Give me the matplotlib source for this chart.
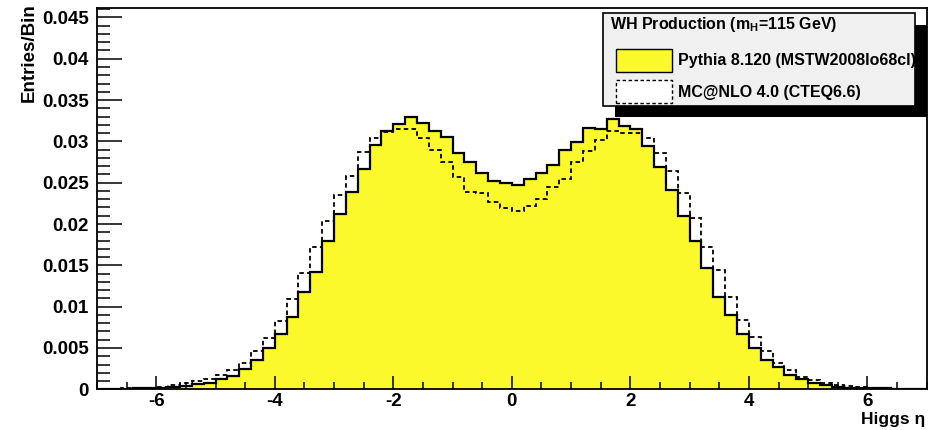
import numpy as np
import matplotlib
matplotlib.use("Agg")
from matplotlib import pyplot as plt
from matplotlib.patches import Rectangle
from matplotlib.ticker import MultipleLocator, FuncFormatter

# bins of Higgs eta, width 0.2 from -7 to 7
edges = np.round(np.arange(-7.0, 7.01, 0.2), 2)

pythia = [0, 0, 0.00005, 0.0001, 0.0001, 0.00015, 0.0003, 0.0004, 0.00064, 0.0008,
	0.00121, 0.00165, 0.00242, 0.00355, 0.0050, 0.0067, 0.00875, 0.01174, 0.01416, 0.0180,
	0.0212, 0.02385, 0.02667, 0.02958, 0.03127, 0.03212, 0.0330, 0.03228, 0.03127, 0.03051,
	0.02857, 0.02752, 0.02615, 0.02522, 0.02494, 0.02473, 0.02542, 0.02622, 0.02716, 0.02897,
	0.02998, 0.03167, 0.03148, 0.03269, 0.03191, 0.03148, 0.02949, 0.02695, 0.02413, 0.02098,
	0.01795, 0.01465, 0.01121, 0.009, 0.00666, 0.00496, 0.00355, 0.00266, 0.00173, 0.00121,
	0.00073, 0.00048, 0.00032, 0.0002, 0.00015, 0.0001, 0.0001, 0.00005, 0, 0]

mcnlo = [0, 0.00005, 0.0001, 0.0001, 0.00015, 0.0003, 0.00048, 0.00073, 0.001, 0.00128,
	0.00173, 0.00234, 0.00315, 0.00467, 0.00625, 0.0083, 0.01093, 0.01404, 0.01727, 0.0204,
	0.02352, 0.02582, 0.02877, 0.03039, 0.03111, 0.03148, 0.03148, 0.03046, 0.02897, 0.02756,
	0.02567, 0.02392, 0.02373, 0.02271, 0.0219, 0.02163, 0.02219, 0.02304, 0.02453, 0.02546,
	0.02748, 0.02889, 0.03018, 0.03127, 0.03099, 0.03099, 0.03039, 0.02857, 0.02643, 0.02373,
	0.0207, 0.01727, 0.01444, 0.01114, 0.00839, 0.0063, 0.00467, 0.00315, 0.00234, 0.00153,
	0.00113, 0.0008, 0.00048, 0.00036, 0.00024, 0.00015, 0.0001, 0.00008, 0.00005, 0]

legend_title = r"WH Production (m$_{\mathregular{H}}$=115 GeV)"
labels = ["Pythia 8.120 (MSTW2008lo68cl)", "MC@NLO 4.0 (CTEQ6.6)"]

W, H = 936, 430
plt.rcParams['font.family'] = ['Liberation Sans', 'DejaVu Sans']
plt.rcParams['font.weight'] = 'bold'
plt.rcParams['axes.unicode_minus'] = False
plt.rcParams['mathtext.default'] = 'regular'

fig = plt.figure(figsize=(W / 100, H / 100), dpi=100)
ax = fig.add_axes([97 / W, 1 - 389.3 / H, (926.7 - 97) / W, (389.3 - 8.3) / H])

yellow = '#fbf82b'
ax.stairs(pythia, edges, fill=True, color=yellow, zorder=1)
ax.stairs(pythia, edges, color='black', lw=1.6, zorder=2)
ax.stairs(mcnlo, edges, color='black', lw=1.3, ls=(0, (2.5, 1.8)), zorder=3)

ax.set_xlim(-7, 7)
ax.set_ylim(0, 0.0461)
ax.xaxis.set_major_locator(MultipleLocator(2))
ax.xaxis.set_minor_locator(MultipleLocator(0.5))
ax.yaxis.set_major_locator(MultipleLocator(0.005))
ax.yaxis.set_minor_locator(MultipleLocator(0.001))
ax.yaxis.set_major_formatter(FuncFormatter(lambda v, p: "%g" % round(v, 4)))
ax.xaxis.set_major_formatter(FuncFormatter(lambda v, p: "%g" % v))

ax.tick_params(axis='both', which='both', direction='in', top=False, right=False,
	width=1.1, labelsize=13.5)
ax.tick_params(axis='y', which='major', length=18, pad=6)
ax.tick_params(axis='y', which='minor', length=9.4)
ax.tick_params(axis='x', which='major', length=9.4, pad=3)
ax.tick_params(axis='x', which='minor', length=5)
for s in ax.spines.values():
	s.set_linewidth(1.3)

fig.text(29.5 / W, 1 - 3 / H, "Entries/Bin", rotation=90, ha='center', va='top',
	fontsize=13.5, fontweight='bold')
fig.text(925 / W, 1 - 427 / H, "Higgs \u03b7", ha='right', va='bottom',
	fontsize=12.5, fontweight='bold')

# legend box with ROOT-like shadow
def fx(x):
	return x / W

def fy(y):
	return 1 - y / H

shadow = Rectangle((fx(615), fy(117)), fx(927) - fx(615), fy(25) - fy(117),
	transform=fig.transFigure, facecolor='black', edgecolor='none', zorder=5)
fig.add_artist(shadow)
box = Rectangle((fx(603), fy(106)), fx(915) - fx(603), fy(13) - fy(106),
	transform=fig.transFigure, facecolor='#f0f0f0', edgecolor='black', lw=1.2, zorder=6)
fig.add_artist(box)

fig.text(fx(610), fy(25), legend_title, ha='left', va='center', fontsize=11.5,
	fontweight='bold', zorder=7)
fig.add_artist(Rectangle((fx(616), fy(72)), fx(672) - fx(616), fy(49) - fy(72),
	transform=fig.transFigure, facecolor=yellow, edgecolor='black', lw=1.0, zorder=7))
fig.add_artist(Rectangle((fx(616), fy(103)), fx(672) - fx(616), fy(80) - fy(103),
	transform=fig.transFigure, facecolor='white', edgecolor='black', lw=1.0,
	ls=(0, (2.5, 1.8)), zorder=7))
t1 = fig.text(fx(678), fy(60.5), labels[0], ha='left', va='center', fontsize=11.5,
	fontweight='bold', zorder=7)
t1.set_clip_path(box)
t2 = fig.text(fx(678), fy(92), labels[1], ha='left', va='center', fontsize=11.5,
	fontweight='bold', zorder=7)

fig.savefig("out.png", dpi=100)
